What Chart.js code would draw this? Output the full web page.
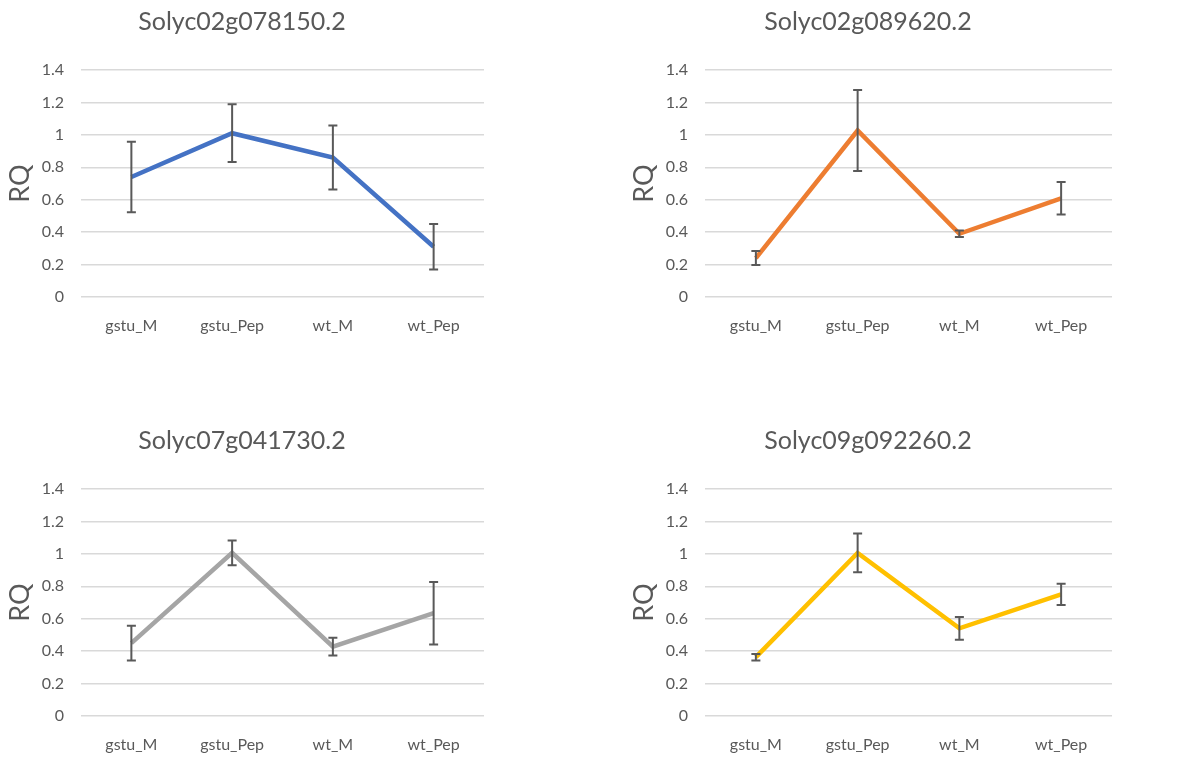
<!DOCTYPE html>
<html>
<head>
<meta charset="utf-8">
<script src="https://cdn.jsdelivr.net/npm/chart.js@4/dist/chart.umd.min.js"></script>
<style>
  html, body { margin: 0; padding: 0; background: #fff; overflow: hidden; }
  .panel { position: absolute; }
</style>
</head>
<body>
<div class="panel" style="left:0px;top:0px;width:484px;height:345px"><canvas id="c1"></canvas></div>
<div class="panel" style="left:624px;top:0px;width:488px;height:345px"><canvas id="c2"></canvas></div>
<div class="panel" style="left:0px;top:419px;width:484px;height:345px"><canvas id="c3"></canvas></div>
<div class="panel" style="left:624px;top:419px;width:488px;height:345px"><canvas id="c4"></canvas></div>
<script>
// categories and tick labels
const categories = ['gstu_M', 'gstu_Pep', 'wt_M', 'wt_Pep'];
const yTickLabels = ['0', '0.2', '0.4', '0.6', '0.8', '1', '1.2', '1.4'];

// gene names (chart titles)
const genes = ['Solyc02g078150.2', 'Solyc02g089620.2', 'Solyc07g041730.2', 'Solyc09g092260.2'];

// RQ values and error bar half-widths
const rq1 = [0.74, 1.01, 0.86, 0.31];
const err1 = [0.218, 0.178, 0.197, 0.14];
const rq2 = [0.24, 1.027, 0.39, 0.609];
const err2 = [0.043, 0.25, 0.02, 0.1];
const rq3 = [0.449, 1.006, 0.428, 0.634];
const err3 = [0.107, 0.077, 0.055, 0.193];
const rq4 = [0.363, 1.006, 0.541, 0.75];
const err4 = [0.02, 0.12, 0.07, 0.065];

const lineColors = ['#4472C4', '#ED7D31', '#A5A5A5', '#FFC000'];
const textColor = '#595959';
const fontFamily = 'Lato, "Open Sans", sans-serif';

// draws the vertical error bars with small caps
const errorBars = {
    id: 'errorBars',
    afterDatasetsDraw(chart) {
        const ctx = chart.ctx;
        const yScale = chart.scales.y;
        chart.data.datasets.forEach((ds, i) => {
            const meta = chart.getDatasetMeta(i);
            if (!ds.errors) return;
            ctx.save();
            ctx.strokeStyle = '#595959';
            ctx.lineWidth = 2;
            meta.data.forEach((pt, j) => {
                const v = ds.data[j];
                const e = ds.errors[j];
                const top = yScale.getPixelForValue(v + e);
                const bot = yScale.getPixelForValue(v - e);
                const x = pt.x;
                ctx.beginPath();
                ctx.moveTo(x, top);
                ctx.lineTo(x, bot);
                ctx.moveTo(x - 4.5, top);
                ctx.lineTo(x + 4.5, top);
                ctx.moveTo(x - 4.5, bot);
                ctx.lineTo(x + 4.5, bot);
                ctx.stroke();
            });
            ctx.restore();
        });
    }
};

function makeChart(id, title, values, errors, color) {
    const ctx = document.getElementById(id).getContext('2d');
    return new Chart(ctx, {
        type: 'line',
        data: {
            labels: categories,
            datasets: [{
                label: title,
                data: values,
                errors: errors,
                borderColor: color,
                backgroundColor: color,
                borderWidth: 4.5,
                pointRadius: 0,
                tension: 0,
                fill: false
            }]
        },
        options: {
            responsive: true,
            maintainAspectRatio: false,
            animation: false,
            layout: { padding: 0 },
            plugins: {
                legend: { display: false },
                tooltip: { enabled: false },
                title: {
                    display: true,
                    text: title,
                    color: textColor,
                    font: { family: fontFamily, size: 25, weight: 'normal' },
                    padding: { top: 7, bottom: 33 }
                }
            },
            scales: {
                x: {
                    offset: true,
                    grid: { display: false, drawTicks: false },
                    border: { display: false },
                    ticks: {
                        color: textColor,
                        font: { family: fontFamily, size: 16 },
                        padding: 19,
                        maxRotation: 0
                    },
                    afterFit: function (scale) { scale.height = 48; }
                },
                y: {
                    min: 0,
                    max: 1.4,
                    grid: { color: '#D9D9D9', lineWidth: 1.5, drawTicks: false },
                    border: { display: false },
                    ticks: {
                        stepSize: 0.2,
                        color: textColor,
                        font: { family: fontFamily, size: 16 },
                        padding: 17,
                        callback: function (value, index) {
                            return yTickLabels[index];
                        }
                    },
                    title: {
                        display: true,
                        text: 'RQ',
                        color: textColor,
                        font: { family: fontFamily, size: 27 },
                        padding: { top: 4, bottom: 0 }
                    },
                    afterFit: function (scale) { scale.width = 81; }
                }
            }
        },
        plugins: [errorBars]
    });
}

makeChart('c1', genes[0], rq1, err1, lineColors[0]);
makeChart('c2', genes[1], rq2, err2, lineColors[1]);
makeChart('c3', genes[2], rq3, err3, lineColors[2]);
makeChart('c4', genes[3], rq4, err4, lineColors[3]);
</script>
</body>
</html>
